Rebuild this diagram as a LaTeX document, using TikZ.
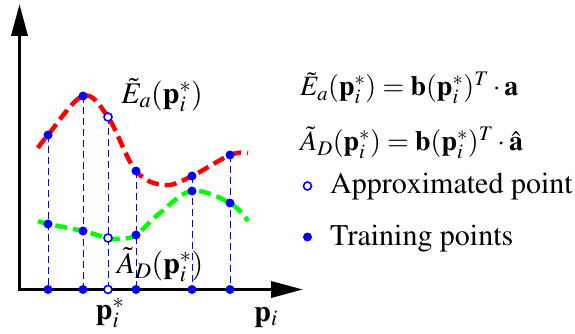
\documentclass[tikz,border=0pt]{standalone}
\usepackage[T1]{fontenc}
\usepackage{mathptmx}
\usetikzlibrary{arrows.meta}
\tikzset{
  axisline/.style={line width=3.5pt, arrows={Triangle[length=32pt,width=16pt]-Triangle[length=32pt,width=16pt]}},
  dot/.style={circle, fill=blue, inner sep=0pt, minimum size=9pt},
  odot/.style={circle, draw=blue, line width=1.6pt, fill=white, inner sep=0pt, minimum size=8pt},
  vline/.style={blue, dash pattern=on 7pt off 4pt, line width=0.9pt},
  redcurve/.style={red, line width=4.5pt, dash pattern=on 12pt off 6pt},
  greencurve/.style={green, line width=4.5pt, dash pattern=on 12pt off 6pt},
  lbl/.style={inner sep=0pt, font=\fontsize{30}{35}\selectfont},
  eqlbl/.style={inner sep=0pt, anchor=west, font=\fontsize{28}{33}\selectfont},
}
\begin{document}
\begin{tikzpicture}[x=1pt,y=-1pt]
\useasboundingbox (0,0) rectangle (575,334);
% axis
\coordinate (yt) at (19.5,4);
\coordinate (O) at (19.5,289.5);
\coordinate (xt) at (303,289.5);
% curve shape points
\coordinate (r0) at (38,148);
\coordinate (r1) at (48,135);
\coordinate (r2) at (83,96);
\coordinate (r3) at (108,117);
\coordinate (r4) at (136,171);
\coordinate (r5) at (165,185);
\coordinate (r6) at (192,176);
\coordinate (r7) at (230,155);
\coordinate (r8) at (248,153);
\coordinate (g0) at (38,221);
\coordinate (g1) at (48,224);
\coordinate (g2) at (83,231);
\coordinate (g3) at (108,238);
\coordinate (g4) at (122,238.5);
\coordinate (g5) at (136,235);
\coordinate (g55) at (160,213);
\coordinate (g6) at (192,191);
\coordinate (g8) at (230,203);
\coordinate (g9) at (248,221);
% axis points
\coordinate (a1) at (48,289.5);
\coordinate (a2) at (83,289.5);
\coordinate (a3) at (108,289.5);
\coordinate (a4) at (136,289.5);
\coordinate (a6) at (192,289.5);
\coordinate (a7) at (230,289.5);
% verticals
\foreach \i in {1,2,3,4,6,7} \draw[vline] (r\i) -- (a\i);
% curves
\draw[redcurve] plot[smooth, tension=0.6] coordinates {(r0) (r1) (r2) (r3) (r4) (r5) (r6) (r7) (r8)};
\draw[greencurve] plot[smooth, tension=0.6] coordinates {(g0) (g1) (g2) (g3) (g4) (g5) (g55) (g6) (g8) (g9)};
% axes
\draw[axisline] (yt) -- (O) -- (xt);
% dots
\foreach \i in {1,2,4,6,7} {
  \node[dot] (R\i) at (r\i) {};
  \node[dot] (A\i) at (a\i) {};
}
\node[odot] (R3) at (r3) {};
\node[odot] (A3) at (a3) {};
\foreach \i in {1,2,5,6,8} \node[dot] (G\i) at (g\i) {};
\node[odot] (G3) at (g3) {};
% labels
\node[lbl] (Elbl) at (162,95) {$\tilde{E}_a(\mathbf{p}_i^*)$};
\node[lbl] (Albl) at (160,265) {$\tilde{A}_D(\mathbf{p}_i^*)$};
\node[lbl] (pstar) at (110,313) {$\mathbf{p}_i^*$};
\node[lbl] (pi) at (266,317) {$\mathbf{p}_i$};
% right side
\node[eqlbl] (eq1) at (300,88) {$\tilde{E}_a(\mathbf{p}_i^*) = \mathbf{b}(\mathbf{p}_i^*)^T\cdot\mathbf{a}$};
\node[eqlbl] (eq2) at (300,143) {$\tilde{A}_D(\mathbf{p}_i^*) = \mathbf{b}(\mathbf{p}_i^*)^T\cdot\hat{\mathbf{a}}$};
\node[odot] (legO) at (307.5,186) {};
\node[dot] (legF) at (307.5,237) {};
\node[lbl, anchor=base west] (leg1) at (330,193) {Approximated point};
\node[lbl, anchor=base west] (leg2) at (330,245) {Training points};
\end{tikzpicture}
\end{document}
